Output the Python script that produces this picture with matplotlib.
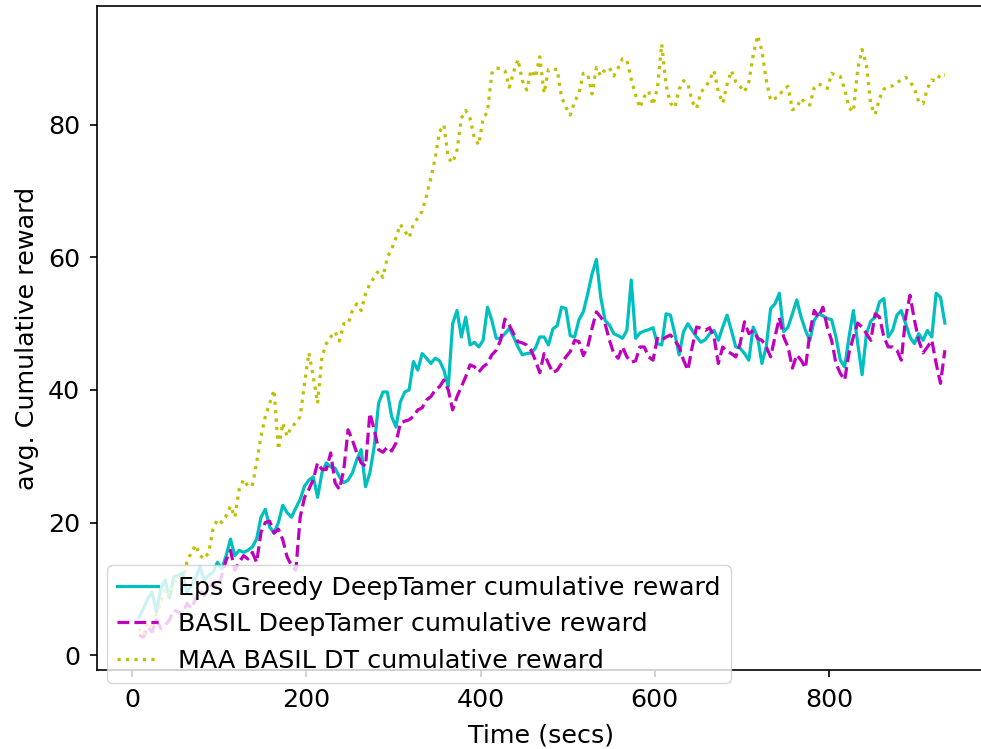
import numpy as np
import matplotlib
matplotlib.use("Agg")
from matplotlib import pyplot as plt

# sampling times (secs), one reading every 5 s
time = np.arange(8, 934, 5)

# eps-greedy DeepTamer
eps_greedy = [
    5.7, 7.0, 8.5, 9.5, 6.5, 10.0, 11.3, 8.6, 11.8, 12.0,
    12.4, 9.4, 10.5, 11.6, 13.3, 11.3, 12.0, 12.5, 14.0, 13.0,
    15.0, 17.5, 15.0, 15.8, 15.5, 15.8, 16.3, 17.5, 20.8, 22.0,
    19.3, 18.4, 20.0, 22.6, 21.5, 20.8, 22.2, 23.5, 25.5, 26.4,
    26.9, 23.8, 27.5, 29.0, 28.4, 28.2, 26.9, 26.0, 26.4, 27.5,
    29.5, 31.0, 25.4, 27.5, 31.5, 38.0, 39.7, 39.7, 36.0, 34.4,
    38.2, 39.7, 40.0, 44.3, 43.0, 45.5, 44.8, 44.0, 44.8, 44.4,
    43.0, 40.5, 50.0, 52.0, 48.0, 51.0, 46.8, 47.2, 46.5, 47.5,
    52.5, 50.5, 47.8, 47.8, 48.5, 49.3, 48.0, 46.5, 45.3, 45.5,
    45.6, 46.3, 48.0, 48.0, 46.8, 49.2, 49.7, 52.5, 52.3, 48.2,
    48.0, 50.6, 51.8, 54.5, 57.5, 59.7, 54.0, 50.5, 49.8, 48.5,
    48.2, 47.8, 49.0, 56.6, 47.8, 48.6, 48.9, 49.1, 49.4, 47.0,
    46.8, 51.5, 51.3, 48.5, 45.3, 48.8, 50.0, 49.0, 48.0, 47.2,
    47.6, 48.5, 49.0, 47.5, 49.5, 51.3, 49.0, 46.5, 46.3, 45.5,
    44.5, 49.5, 48.0, 44.0, 46.5, 52.3, 53.0, 54.6, 48.8, 49.5,
    51.5, 53.6, 51.0, 49.0, 47.5, 50.5, 51.5, 51.2, 50.8, 50.6,
    48.0, 44.5, 43.5, 48.0, 52.0, 47.0, 42.3, 48.5, 50.4, 51.0,
    53.3, 53.8, 48.0, 49.0, 51.3, 52.0, 50.0, 48.0, 47.0, 48.5,
    47.5, 49.0, 48.0, 54.6, 54.0, 50.1,
]

# BASIL DeepTamer
basil = [
    3.0, 2.7, 4.2, 3.5, 5.3, 4.0, 4.5, 5.3, 6.8, 6.5,
    6.0, 7.8, 7.0, 8.5, 9.8, 9.0, 10.0, 10.9, 10.0, 12.0,
    14.3, 15.8, 12.8, 14.0, 15.0, 14.5, 15.5, 14.0, 18.5, 20.0,
    20.2, 18.4, 19.0, 17.4, 14.8, 13.5, 12.8, 20.8, 23.8, 25.0,
    26.5, 29.0, 28.0, 28.0, 30.5, 26.0, 25.0, 27.9, 34.0, 32.4,
    30.5, 29.0, 28.5, 36.5, 34.0, 31.0, 30.6, 31.4, 30.8, 32.0,
    35.0, 35.3, 35.5, 36.0, 37.0, 37.3, 38.5, 39.0, 40.0, 40.5,
    41.5, 40.0, 37.0, 39.0, 40.5, 42.0, 43.8, 43.5, 42.7, 43.5,
    44.0, 45.3, 46.0, 47.5, 50.7, 49.8, 48.5, 47.3, 47.1, 46.8,
    46.0, 44.5, 42.6, 45.5, 44.0, 42.6, 43.0, 44.0, 45.0, 45.8,
    47.5, 47.3, 45.2, 46.5, 49.3, 51.8, 51.0, 50.0, 47.5, 45.5,
    44.8, 46.5, 45.0, 44.2, 44.4, 46.5, 46.5, 45.0, 44.5, 47.8,
    47.5, 48.0, 48.3, 47.5, 46.5, 44.5, 43.0, 46.5, 49.5, 49.3,
    49.0, 49.4, 48.0, 44.0, 46.5, 45.8, 45.5, 45.0, 47.0, 50.3,
    48.5, 49.0, 47.8, 47.5, 46.5, 45.0, 48.0, 50.9, 48.0, 46.5,
    43.3, 45.3, 44.5, 43.3, 48.6, 52.0, 51.0, 52.5, 49.5, 47.5,
    44.0, 42.5, 41.5, 45.6, 48.0, 50.1, 49.5, 48.5, 47.5, 51.5,
    51.0, 48.0, 46.5, 46.5, 46.0, 44.5, 51.0, 54.3, 50.6, 47.5,
    45.6, 46.5, 47.5, 44.0, 41.0, 46.0,
]

# MAA BASIL DT
maa_basil = [
    4.0, 3.0, 5.0, 4.0, 6.0, 8.0, 10.0, 9.0, 11.0, 12.0,
    11.0, 14.0, 15.5, 16.6, 15.0, 14.5, 15.5, 19.0, 20.5, 20.0,
    21.0, 22.5, 20.8, 25.0, 26.5, 25.5, 25.5, 29.0, 33.0, 36.0,
    38.0, 40.0, 31.0, 35.0, 33.0, 34.5, 35.0, 36.0, 41.0, 45.6,
    42.0, 38.0, 45.0, 47.0, 48.0, 48.8, 47.4, 50.0, 50.0, 52.0,
    53.0, 52.0, 54.5, 56.0, 57.0, 58.0, 57.0, 60.0, 61.3, 63.0,
    65.0, 64.0, 63.0, 65.0, 66.0, 67.0, 69.3, 72.0, 75.0, 79.0,
    80.0, 75.0, 74.3, 76.2, 81.0, 82.2, 81.0, 78.0, 77.0, 81.0,
    82.0, 87.8, 88.6, 88.5, 88.2, 85.7, 88.0, 89.9, 86.7, 85.3,
    88.3, 87.2, 90.3, 84.8, 88.4, 88.4, 88.4, 84.2, 82.7, 81.5,
    83.5, 84.8, 87.8, 87.7, 84.7, 88.7, 87.4, 88.4, 88.6, 87.4,
    88.6, 90.0, 89.8, 86.9, 84.5, 82.6, 84.3, 85.1, 83.0, 85.5,
    92.2, 86.0, 83.3, 82.6, 85.4, 86.7, 86.2, 83.5, 82.5, 85.0,
    85.6, 86.8, 88.2, 85.0, 83.3, 86.1, 88.2, 86.5, 85.8, 85.0,
    86.5, 90.5, 93.5, 91.2, 86.8, 83.7, 84.0, 84.4, 85.5, 85.8,
    82.3, 82.6, 84.0, 83.3, 83.0, 85.6, 86.2, 85.9, 85.5, 87.8,
    87.5, 87.3, 85.4, 82.6, 82.0, 88.5, 91.4, 89.0, 83.0, 81.6,
    84.0, 85.4, 85.8, 85.9, 86.4, 86.8, 87.2, 86.6, 85.5, 83.5,
    83.2, 85.5, 86.8, 86.6, 87.7, 87.5,
]

plt.rcParams['font.size'] = 18.3
plt.rcParams['xtick.major.size'] = 5
plt.rcParams['ytick.major.size'] = 5
plt.rcParams['xtick.major.pad'] = 8
plt.rcParams['ytick.major.pad'] = 7
plt.rcParams['xtick.major.width'] = 1.2
plt.rcParams['ytick.major.width'] = 1.2
plt.rcParams['axes.linewidth'] = 1.2

fig = plt.figure(figsize=(9.81, 7.49), dpi=100)
# right edge of the axes runs just past the canvas
ax = fig.add_axes([0.0989, 0.1055, 0.906, 0.8865])

ax.plot(time, eps_greedy, 'c-', lw=2.3, label='Eps Greedy DeepTamer cumulative reward')
ax.plot(time, basil, 'm--', lw=2.3, label='BASIL DeepTamer cumulative reward')
ax.plot(time, maa_basil, 'y:', lw=2.3, label='MAA BASIL DT cumulative reward')

ax.set_xlim(-40.2, 980)
ax.set_ylim(-2.26, 97.96)
ax.set_xticks([0, 200, 400, 600, 800])
ax.set_yticks([0, 20, 40, 60, 80])
ax.set_xlabel('Time (secs)', labelpad=8)
ax.set_ylabel('avg. Cumulative reward', labelpad=7)
ax.legend(loc='lower left', bbox_to_anchor=(-0.0034, -0.039), handlelength=1.6)

plt.savefig('out.png', dpi=100)
